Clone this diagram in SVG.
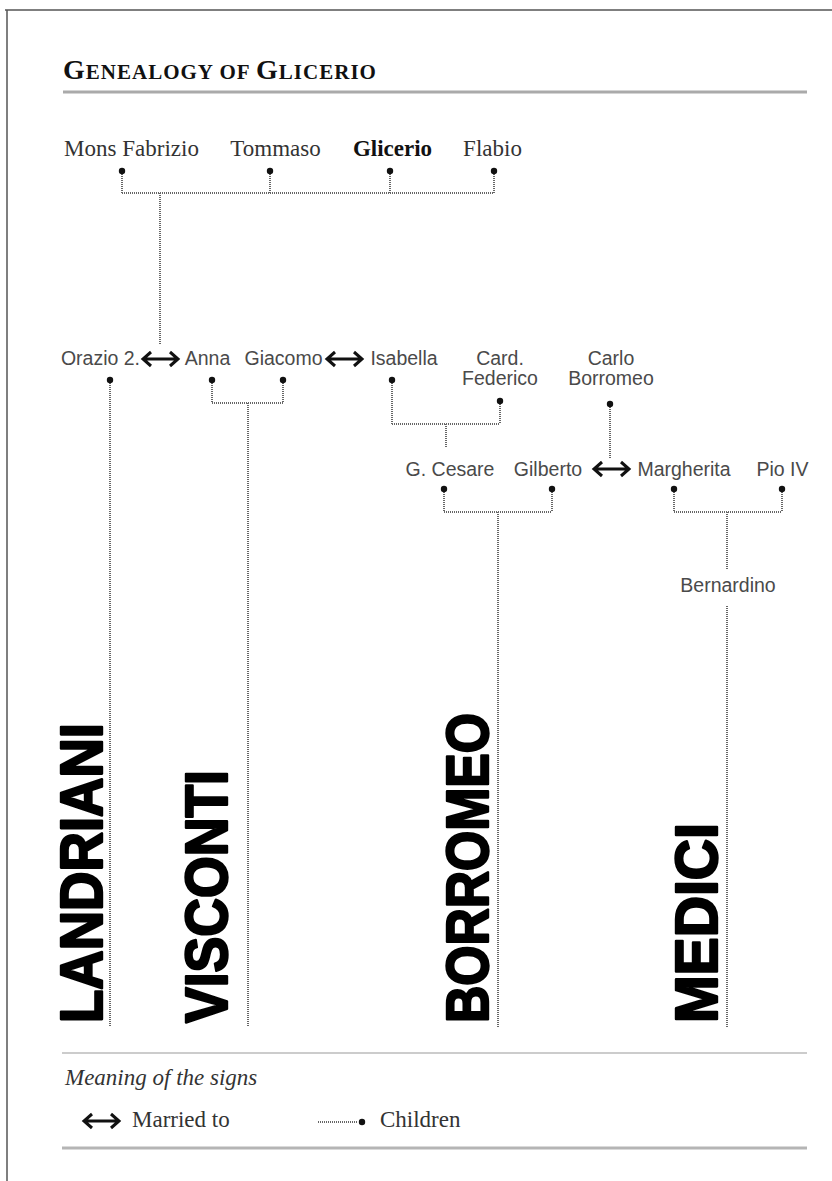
<svg xmlns="http://www.w3.org/2000/svg" width="832" height="1181" viewBox="0 0 832 1181">
<style>
.serif{font-family:"Liberation Serif","Times New Roman",serif;font-size:23px;fill:#333}
.sans{font-family:"Liberation Sans",Arial,sans-serif;font-size:19.5px;fill:#4a4a4a}
.fam{font-family:"Liberation Sans",Arial,sans-serif;font-weight:bold;font-size:60px;fill:#000;stroke:#000;stroke-width:2.4;stroke-linejoin:round}
.dot{fill:#111}
.link{fill:none;stroke:#666;stroke-width:2;stroke-dasharray:1 1}
.marr{fill:none;stroke:#111;stroke-width:3}
</style>
<defs>
<path id="arrow" d="M1,0 H36 M9,-7 L1,0 L9,7 M28,-7 L36,0 L28,7"/>
</defs>
<rect x="0" y="0" width="832" height="1181" fill="#fff"/>
<path d="M5,10 H832 M7,10 V1181" fill="none" stroke="#555" stroke-width="1.5"/>

<g id="title">
<text x="63" y="79" font-family="'Liberation Serif','Times New Roman',serif" font-weight="bold" fill="#111" letter-spacing="1"><tspan font-size="28">G</tspan><tspan font-size="21">ENEALOGY OF </tspan><tspan font-size="28">G</tspan><tspan font-size="21">LICERIO</tspan></text>
<line x1="63" y1="92" x2="807" y2="92" stroke="#aaa" stroke-width="3"/>
</g>

<g id="connectors">
<path class="link" d="M122,174 V193 M270,174 V193 M390,174 V193 M494,174 V193 M122,193 H494 M160,193 V345"/>
<path class="link" d="M110,383 V1027"/>
<path class="link" d="M212,383 V403 M283,383 V403 M212,403 H283 M248,403 V1027"/>
<path class="link" d="M392,383 V424 M500,404 V424 M392,424 H500 M446,424 V448"/>
<path class="link" d="M610,407 V458"/>
<path class="link" d="M444,492 V512 M552,492 V512 M444,512 H552 M498,512 V1027"/>
<path class="link" d="M674,492 V512 M782,492 V512 M674,512 H782 M727,512 V570 M727,606 V1027"/>
<use href="#arrow" class="marr" x="142" y="359"/>
<use href="#arrow" class="marr" x="326" y="359"/>
<use href="#arrow" class="marr" x="593" y="469"/>
</g>

<g id="mons-fabrizio"><text class="serif" x="131.5" y="156" text-anchor="middle">Mons Fabrizio</text><circle class="dot" cx="122" cy="171" r="3.2"/></g>
<g id="tommaso"><text class="serif" x="275.5" y="156" text-anchor="middle">Tommaso</text><circle class="dot" cx="270" cy="171" r="3.2"/></g>
<g id="glicerio"><text class="serif" x="392.5" y="156" text-anchor="middle" font-weight="bold" style="fill:#111">Glicerio</text><circle class="dot" cx="390" cy="171" r="3.2"/></g>
<g id="flabio"><text class="serif" x="492.5" y="156" text-anchor="middle">Flabio</text><circle class="dot" cx="494" cy="171" r="3.2"/></g>

<g id="orazio"><text class="sans" x="140" y="365" text-anchor="end">Orazio 2.</text><circle class="dot" cx="110" cy="380" r="3.2"/></g>
<g id="anna"><text class="sans" x="207.5" y="365" text-anchor="middle">Anna</text><circle class="dot" cx="212" cy="380" r="3.2"/></g>
<g id="giacomo"><text class="sans" x="283.5" y="365" text-anchor="middle">Giacomo</text><circle class="dot" cx="283" cy="380" r="3.2"/></g>
<g id="isabella"><text class="sans" x="404" y="365" text-anchor="middle">Isabella</text><circle class="dot" cx="392" cy="380" r="3.2"/></g>
<g id="card-federico"><text class="sans" text-anchor="middle"><tspan x="500" y="365">Card.</tspan><tspan x="500" y="385">Federico</tspan></text><circle class="dot" cx="500" cy="401" r="3.2"/></g>
<g id="carlo-borromeo"><text class="sans" text-anchor="middle"><tspan x="611" y="365">Carlo</tspan><tspan x="611" y="385">Borromeo</tspan></text><circle class="dot" cx="610" cy="404" r="3.2"/></g>

<g id="g-cesare"><text class="sans" x="450" y="476" text-anchor="middle">G. Cesare</text><circle class="dot" cx="444" cy="489" r="3.2"/></g>
<g id="gilberto"><text class="sans" x="548" y="476" text-anchor="middle">Gilberto</text><circle class="dot" cx="552" cy="489" r="3.2"/></g>
<g id="margherita"><text class="sans" x="684" y="476" text-anchor="middle">Margherita</text><circle class="dot" cx="674" cy="489" r="3.2"/></g>
<g id="pio-iv"><text class="sans" x="782.5" y="476" text-anchor="middle">Pio IV</text><circle class="dot" cx="782" cy="489" r="3.2"/></g>
<g id="bernardino"><text class="sans" x="728" y="592" text-anchor="middle">Bernardino</text></g>

<g id="landriani"><text class="fam" transform="translate(102,1023) rotate(-90)" textLength="300" lengthAdjust="spacingAndGlyphs">LANDRIANI</text></g>
<g id="visconti"><text class="fam" transform="translate(227,1023) rotate(-90)" textLength="253" lengthAdjust="spacingAndGlyphs">VISCONTI</text></g>
<g id="borromeo"><text class="fam" transform="translate(488,1023) rotate(-90)" textLength="310" lengthAdjust="spacingAndGlyphs">BORROMEO</text></g>
<g id="medici"><text class="fam" transform="translate(717,1023) rotate(-90)" textLength="200" lengthAdjust="spacingAndGlyphs">MEDICI</text></g>

<g id="legend">
<line x1="62" y1="1053" x2="807" y2="1053" stroke="#ccc" stroke-width="2"/>
<text x="65" y="1085" font-family="'Liberation Serif','Times New Roman',serif" font-style="italic" font-size="23" fill="#333">Meaning of the signs</text>
<use href="#arrow" class="marr" x="83" y="1121"/>
<text class="serif" x="132" y="1127" font-size="22.5">Married to</text>
<line class="link" x1="318" y1="1122" x2="358" y2="1122"/>
<circle class="dot" cx="362" cy="1122" r="3.2"/>
<text class="serif" x="380" y="1127" font-size="22.5">Children</text>
<line x1="62" y1="1148" x2="807" y2="1148" stroke="#b5b5b5" stroke-width="3"/>
</g>
</svg>
